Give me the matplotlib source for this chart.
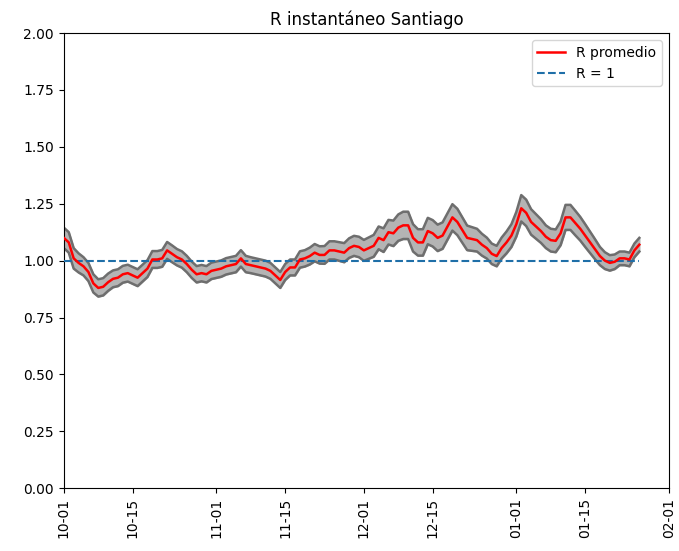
import matplotlib
matplotlib.use("Agg")
import matplotlib.pyplot as plt
import matplotlib.dates as mdates
import numpy as np
import pandas as pd

start_date = "2020-10-01"
r_mean = [
    1.10, 1.08, 1.01, 0.99, 0.975, 0.95, 0.90, 0.88, 0.885, 0.905,
    0.92, 0.925, 0.94, 0.945, 0.935, 0.925, 0.945, 0.965, 1.005, 1.005,
    1.01, 1.045, 1.03, 1.015, 1.005, 0.985, 0.96, 0.94, 0.945, 0.94,
    0.955, 0.96, 0.965, 0.975, 0.98, 0.985, 1.01, 0.985, 0.98, 0.975,
    0.97, 0.965, 0.955, 0.935, 0.915, 0.95, 0.97, 0.97, 1.005, 1.01,
    1.02, 1.035, 1.025, 1.025, 1.045, 1.045, 1.04, 1.035, 1.055, 1.065,
    1.06, 1.045, 1.055, 1.065, 1.10, 1.09, 1.125, 1.12, 1.145, 1.155,
    1.155, 1.10, 1.08, 1.08, 1.13, 1.12, 1.10, 1.11, 1.15, 1.19,
    1.17, 1.135, 1.10, 1.095, 1.09, 1.07, 1.055, 1.03, 1.02, 1.055,
    1.08, 1.11, 1.16, 1.23, 1.21, 1.17, 1.15, 1.13, 1.105, 1.09,
    1.087, 1.12, 1.19, 1.19, 1.165, 1.14, 1.11, 1.08, 1.05, 1.02,
    1.00, 0.99, 0.995, 1.01, 1.01, 1.005, 1.045, 1.07,
]
r_err = [
    0.045, 0.045, 0.045, 0.042, 0.04, 0.04, 0.04, 0.038, 0.038, 0.038,
    0.037, 0.037, 0.037, 0.037, 0.037, 0.037, 0.037, 0.037, 0.037, 0.037,
    0.037, 0.037, 0.037, 0.036, 0.036, 0.036, 0.036, 0.036, 0.036, 0.036,
    0.036, 0.036, 0.036, 0.036, 0.036, 0.036, 0.036, 0.036, 0.035, 0.035,
    0.035, 0.035, 0.035, 0.035, 0.035, 0.035, 0.035, 0.035, 0.036, 0.036,
    0.037, 0.038, 0.038, 0.039, 0.04, 0.04, 0.041, 0.042, 0.043, 0.044,
    0.045, 0.046, 0.047, 0.048, 0.05, 0.052, 0.054, 0.056, 0.058, 0.06,
    0.06, 0.06, 0.058, 0.058, 0.058, 0.058, 0.058, 0.058, 0.058, 0.058,
    0.058, 0.056, 0.054, 0.052, 0.05, 0.048, 0.046, 0.045, 0.045, 0.046,
    0.048, 0.05, 0.054, 0.058, 0.058, 0.056, 0.054, 0.052, 0.05, 0.05,
    0.05, 0.052, 0.055, 0.055, 0.054, 0.052, 0.05, 0.047, 0.044, 0.04,
    0.037, 0.034, 0.032, 0.03, 0.03, 0.03, 0.03, 0.03,
]

dates = pd.date_range(start_date, periods=len(r_mean), freq="D")
r_mean = np.array(r_mean)
r_err = np.array(r_err)
lower = r_mean - r_err
upper = r_mean + r_err

fig = plt.figure(figsize=(6.79, 5.51), dpi=100)
ax = fig.add_axes([0.094, 0.114, 0.891, 0.826])

ax.fill_between(dates, lower, upper, color="#b4b4b4", zorder=1)
ax.plot(dates, lower, color="#6e6e6e", lw=1.8, zorder=2)
ax.plot(dates, upper, color="#6e6e6e", lw=1.8, zorder=2)
ax.plot(dates, r_mean, color="red", lw=1.8, label="R promedio", zorder=4)
ax.plot([dates[0], dates[-1]], [1, 1], color="#1f6fa8", ls="--", lw=1.5,
        label="R = 1", zorder=3)

ax.set_ylim(0, 2)
ax.set_yticks(np.arange(0, 2.01, 0.25))
ax.set_xlim(pd.Timestamp("2020-10-01"), pd.Timestamp("2021-02-01"))
ax.xaxis.set_major_locator(mdates.DayLocator(bymonthday=[1, 15]))
ax.xaxis.set_major_formatter(mdates.DateFormatter("%m-%d"))
plt.setp(ax.get_xticklabels(), rotation=90)
ax.set_title("R instantáneo Santiago")
ax.legend(loc="upper right")

fig.savefig("out.png", dpi=100)
